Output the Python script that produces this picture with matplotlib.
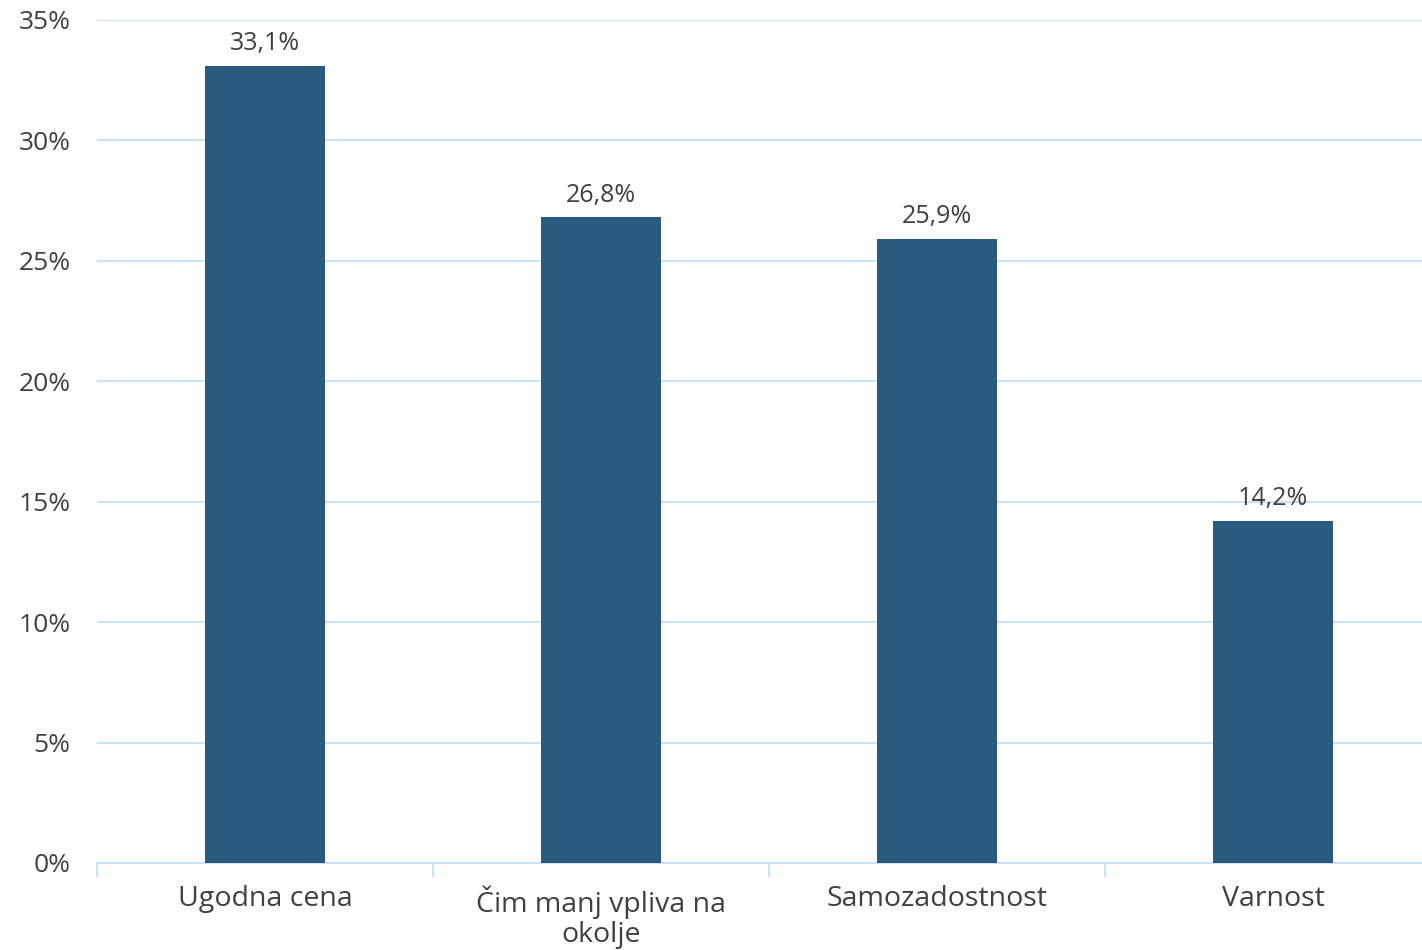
import matplotlib.pyplot as plt
import numpy as np

categories = ['Ugodna cena', 'Čim manj vpliva na\nokolje', 'Samozadostnost', 'Varnost']
values = [33.1, 26.8, 25.9, 14.2]
yticks = [0, 5, 10, 15, 20, 25, 30, 35]

bar_color = '#2b5a7f'
grid_color = '#c9e4f7'
text_color = '#404040'

plt.rcParams['font.family'] = ['Open Sans', 'DejaVu Sans']

fig = plt.figure(figsize=(14.22, 9.5), dpi=100)
# axes runs a bit past the right edge, like the original
ax = fig.add_axes([0.0682, 0.0916, 0.9452, 0.8874])

x = np.arange(len(categories))
bars = ax.bar(x, values, width=0.355, color=bar_color, zorder=3)

for xi, v in zip(x, values):
    ax.annotate(f'{v:.1f}%'.replace('.', ','), (xi, v), xytext=(0, 7),
                textcoords='offset points', ha='center', va='bottom',
                fontsize=18, color=text_color, zorder=4)

ax.set_xlim(-0.5, len(categories) - 0.5)
ax.set_ylim(0, 35)
ax.set_yticks(yticks)
ax.set_yticklabels([f'{t}%' for t in yticks])
ax.yaxis.grid(True, color=grid_color, linewidth=1.5, zorder=0)
ax.tick_params(axis='y', length=0, labelsize=19, labelcolor=text_color, pad=19)

# category ticks sit on boundaries
ax.set_xticks(x)
ax.set_xticklabels(categories)
ax.tick_params(axis='x', length=0, labelsize=20.5, labelcolor=text_color, pad=16)
ax.set_xticks(np.arange(len(categories) + 1) - 0.5, minor=True)
ax.tick_params(axis='x', which='minor', length=10, width=1.5, color=grid_color)

for s in ['top', 'right', 'left']:
    ax.spines[s].set_visible(False)
ax.spines['bottom'].set_color(grid_color)
ax.spines['bottom'].set_linewidth(1.5)

for lbl in ax.get_xticklabels():
    lbl.set_linespacing(1.12)

plt.savefig('out.png', dpi=100)
